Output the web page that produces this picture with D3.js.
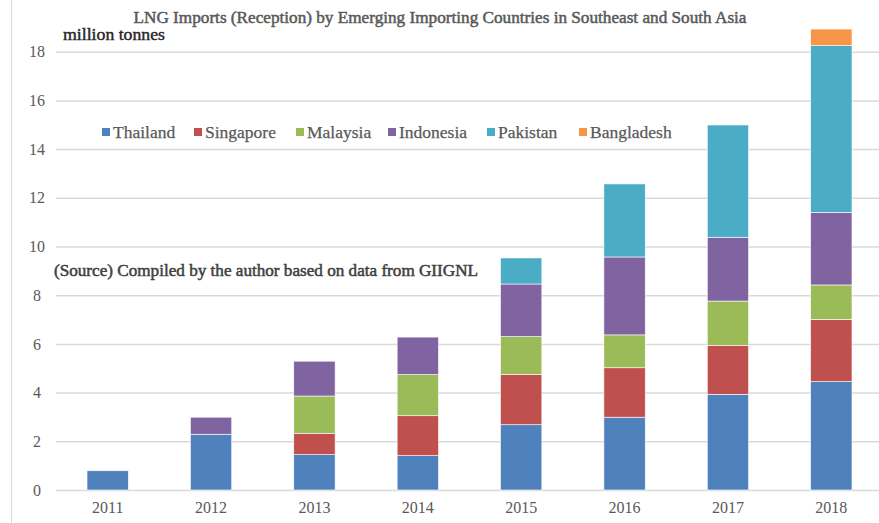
<!DOCTYPE html>
<html>
<head>
  <meta charset="utf-8">
  <title>LNG Imports by Emerging Importing Countries</title>
  <script src="https://cdnjs.cloudflare.com/ajax/libs/d3/7.8.5/d3.min.js"></script>
  <style>
    html, body { margin: 0; padding: 0; background: #fff; }
    svg { display: block; }
    svg text { font-family: "Liberation Serif", "DejaVu Serif", serif; }
  </style>
</head>
<body>
  <svg id="chart" width="879" height="523"></svg>
  <script>
    // data (million tonnes)
    let years = ['2011', '2012', '2013', '2014', '2015', '2016', '2017', '2018']
    let countries = ['Thailand', 'Singapore', 'Malaysia', 'Indonesia', 'Pakistan', 'Bangladesh']
    let thailand   = [0.79, 2.29, 1.45, 1.41, 2.68, 2.99, 3.93, 4.45]
    let singapore  = [0,    0,    0.88, 1.64, 2.07, 2.03, 2.00, 2.56]
    let malaysia   = [0,    0,    1.53, 1.69, 1.55, 1.35, 1.83, 1.41]
    let indonesia  = [0,    0.70, 1.43, 1.54, 2.16, 3.20, 2.62, 2.98]
    let pakistan   = [0,    0,    0,    0,    1.07, 3.00, 4.61, 6.85]
    let bangladesh = [0,    0,    0,    0,    0,    0,    0,    0.68]
    let yTicks = [0, 2, 4, 6, 8, 10, 12, 14, 16, 18]
    let colors = ['#4f81bd', '#c0504d', '#9bbb59', '#8064a2', '#4bacc6', '#f79646']

    let series = [thailand, singapore, malaysia, indonesia, pakistan, bangladesh]
    let rows = years.map((y, i) => {
      let r = { year: y }
      countries.forEach((c, k) => { r[c] = series[k][i] })
      return r
    })

    let svg = d3.select('#chart')

    let x = d3.scaleBand().domain(years).range([56, 883]).paddingInner(0.6).paddingOuter(0.3)
    let y = d3.scaleLinear().domain([0, 18]).range([490, 51.7])
    let color = d3.scaleOrdinal().domain(countries).range(colors)

    // faint frame line on the left
    svg.append('line')
      .attr('x1', 11.5).attr('x2', 11.5).attr('y1', 0).attr('y2', 523)
      .attr('stroke', '#d9d9d9').attr('stroke-width', 1)

    // gridlines + y labels
    let yAxis = svg.append('g')
      .attr('transform', 'translate(56,0)')
      .call(d3.axisLeft(y).tickValues(yTicks).tickSize(-823).tickPadding(12))
      .attr('font-family', null)
    yAxis.select('.domain').remove()
    yAxis.selectAll('.tick line').attr('stroke', '#d9d9d9').attr('stroke-width', 1.5)
    yAxis.selectAll('.tick text')
      .attr('fill', '#595959').attr('font-size', 16).attr('text-anchor', 'middle').attr('x', -19)

    // stacked bars
    let stacked = d3.stack().keys(countries)(rows)
    svg.append('g').selectAll('g')
      .data(stacked)
      .join('g')
      .attr('fill', d => color(d.key))
      .selectAll('rect')
      .data(d => d.filter(s => s[1] - s[0] > 0))
      .join('rect')
      .attr('x', d => x(d.data.year))
      .attr('width', x.bandwidth())
      .attr('y', d => y(d[1]))
      .attr('height', d => y(d[0]) - y(d[1]))
      .attr('stroke', '#ffffff')
      .attr('stroke-width', 0.6)

    // x labels
    let xAxis = svg.append('g')
      .attr('transform', 'translate(0,490)')
      .call(d3.axisBottom(x).tickSize(0).tickPadding(12))
      .attr('font-family', null)
    xAxis.select('.domain').remove()
    xAxis.selectAll('.tick text').attr('fill', '#595959').attr('font-size', 16)

    // title
    svg.append('text')
      .attr('x', 440).attr('y', 23)
      .attr('text-anchor', 'middle')
      .attr('font-size', 17)
      .attr('fill', '#595959').attr('stroke', '#595959').attr('stroke-width', 0.5)
      .attr('textLength', 613).attr('lengthAdjust', 'spacingAndGlyphs')
      .text('LNG Imports (Reception) by Emerging Importing Countries in Southeast and South Asia')

    svg.append('text')
      .attr('x', 63).attr('y', 40)
      .attr('font-size', 16.5)
      .attr('fill', '#262626').attr('stroke', '#262626').attr('stroke-width', 0.4)
      .attr('textLength', 102).attr('lengthAdjust', 'spacingAndGlyphs')
      .text('million tonnes')

    // legend
    let legendX = [102, 194, 296, 388, 487, 579]
    let legend = svg.append('g').selectAll('g')
      .data(countries)
      .join('g')
      .attr('transform', (d, i) => `translate(${legendX[i]},132)`)
    legend.append('rect')
      .attr('x', 0).attr('y', -4).attr('width', 8).attr('height', 8)
      .attr('fill', d => color(d))
    legend.append('text')
      .attr('x', 11).attr('y', 5.5)
      .attr('font-size', 17.5)
      .attr('fill', '#595959').attr('stroke', '#595959').attr('stroke-width', 0.25)
      .text(d => d)

    // source note
    svg.append('text')
      .attr('x', 54).attr('y', 276)
      .attr('font-size', 16.5)
      .attr('fill', '#404040').attr('stroke', '#404040').attr('stroke-width', 0.5)
      .attr('textLength', 424).attr('lengthAdjust', 'spacingAndGlyphs')
      .text('(Source) Compiled by the author based on data from GIIGNL')
  </script>
</body>
</html>
